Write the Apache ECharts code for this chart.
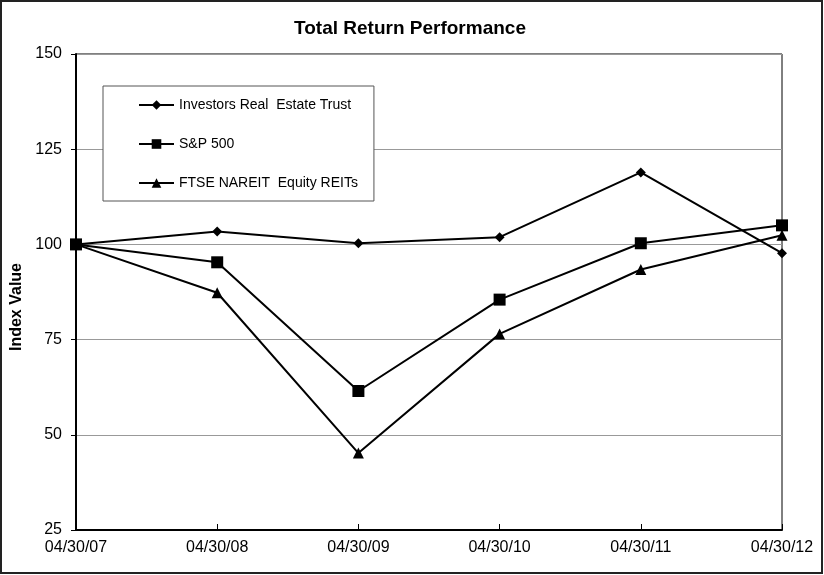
<!DOCTYPE html>
<html><head><meta charset="utf-8">
<script src="https://cdn.jsdelivr.net/npm/echarts@6/dist/echarts.min.js"></script>
<style>html,body{margin:0;padding:0;background:#fff}#c{width:824px;height:575px}</style>
</head><body><div id="c"></div>
<script>
const categories = ['04/30/07','04/30/08','04/30/09','04/30/10','04/30/11','04/30/12'];
const iret = [100, 103.4, 100.3, 101.9, 118.9, 97.7];
const sp500 = [100, 95.3, 61.5, 85.5, 100.3, 105.0];
const nareit = [100, 87.3, 45.2, 76.5, 93.4, 102.4];
const yTicks = [25, 50, 75, 100, 125, 150];

const chart = echarts.init(document.getElementById('c'), null, {renderer:'canvas'});
const font = 'Liberation Sans, Arial, sans-serif';
function line(name, data, symbol, size){
  return {name, type:'line', data, symbol, symbolSize:size, showAllSymbol:true,
    lineStyle:{color:'#000', width:2}, itemStyle:{color:'#000'}, z:3};
}
chart.setOption({
  animation:false,
  textStyle:{fontFamily:font},
  title:{text:'Total Return Performance', left:405, textAlign:'center', top:14,
    textStyle:{fontFamily:font, fontSize:19, fontWeight:'bold', color:'#000'}},
  graphic:[{type:'rect', shape:{x:1, y:1, width:821, height:572},
    style:{fill:'none', stroke:'#222', lineWidth:2}, silent:true}],
  grid:{left:76, right:42, top:54, bottom:45, show:true, borderColor:'#000', borderWidth:1},
  legend:{orient:'vertical', left:103, top:86, padding:[12,16,11,35], itemGap:25,
    backgroundColor:'#fff', borderColor:'#555', borderWidth:1,
    itemWidth:35, itemHeight:12,
    textStyle:{fontFamily:font, fontSize:14, color:'#000'},
    data:['Investors Real  Estate Trust','S&P 500','FTSE NAREIT  Equity REITs']},
  xAxis:{type:'category', data:categories, boundaryGap:false,
    axisLine:{lineStyle:{color:'#000', width:2}},
    axisTick:{inside:true, length:6, lineStyle:{color:'#000'}},
    axisLabel:{fontFamily:font, fontSize:16, color:'#000', margin:10, showMaxLabel:true, showMinLabel:true},
    splitLine:{show:false}},
  yAxis:{type:'value', min:yTicks[0], max:yTicks[yTicks.length-1], interval:25,
    name:'Index Value', nameLocation:'middle', nameGap:44, nameRotate:90,
    nameTextStyle:{fontFamily:font, fontSize:16, fontWeight:'bold', color:'#000', padding:[0,0,0,-30]},
    axisLine:{show:true, lineStyle:{color:'#000', width:2}},
    axisTick:{show:true, length:5, lineStyle:{color:'#000'}},
    axisLabel:{fontFamily:font, fontSize:16, color:'#000', margin:14},
    splitLine:{show:true, lineStyle:{color:'#999', width:1}}},
  series:[
    line('Investors Real  Estate Trust', iret, 'diamond', 10),
    line('S&P 500', sp500, 'rect', 12),
    line('FTSE NAREIT  Equity REITs', nareit, 'triangle', 11)
  ]
});
</script></body></html>
